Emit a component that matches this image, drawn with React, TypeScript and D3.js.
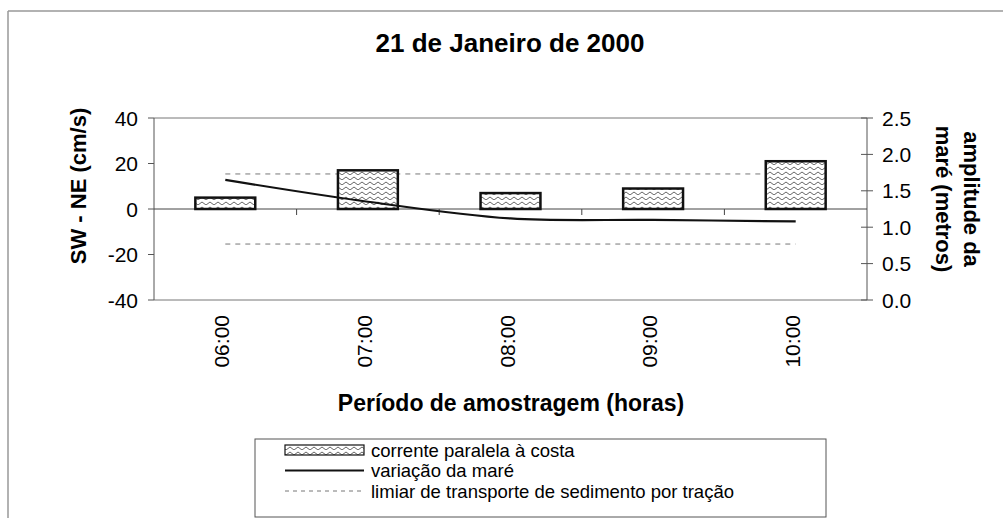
import React from "react";
import * as d3 from "d3";

const categories = ["06:00", "07:00", "08:00", "09:00", "10:00"];
const currentValues = [5, 17, 7, 9, 21];
const tideValues = [1.65, 1.35, 1.12, 1.1, 1.08];
const thresholdUpper = [15.4, 15.4, 15.4, 15.4, 15.4];
const thresholdLower = [-15.4, -15.4, -15.4, -15.4, -15.4];
const leftTicks = [-40, -20, 0, 20, 40];
const rightTicks = [0, 0.5, 1.0, 1.5, 2.0, 2.5];
const legendLabels = [
  "corrente paralela à costa",
  "variação da maré",
  "limiar de transporte de sedimento por tração",
];

const W = 1003;
const H = 518;
const FONT = "Liberation Sans, Arial, sans-serif";

export default function App() {
  const left = 154, right = 867, top = 118, bottom = 300;
  const x = d3.scaleBand<string>().domain(categories).range([left, right]).padding(0);
  const yL = d3.scaleLinear().domain([-40, 40]).range([bottom, top]);
  const yR = d3.scaleLinear().domain([0, 2.5]).range([bottom, top]);
  const cx = (c: string) => (x(c) as number) + x.bandwidth() / 2;
  const barW = x.bandwidth() * 0.42;

  const tideLine = d3
    .line<number>()
    .x((_, i) => cx(categories[i]))
    .y((d) => yR(d))
    .curve(d3.curveCatmullRom.alpha(0.5));
  const threshLine = d3
    .line<number>()
    .x((_, i) => cx(categories[i]))
    .y((d) => yL(d));

  const legX = 255, legY = 439;
  const rowY = [450, 470.5, 491];

  return (
    <svg width={W} height={H} style={{ position: "absolute", left: 0, top: 0, background: "#fff" }}>
      <defs>
        <pattern id="wave" width="8" height="5" patternUnits="userSpaceOnUse">
          <rect width="8" height="5" fill="#fff" />
          <path d="M0,3.5 Q2,0.5 4,3.5 T8,3.5" fill="none" stroke="#666" strokeWidth="1" />
        </pattern>
      </defs>
      <rect x={0} y={0} width={W} height={H} fill="#fff" />
      {/* outer frame */}
      <line x1={8} y1={11} x2={W} y2={11} stroke="#999" strokeWidth={1.5} />
      <line x1={8} y1={11} x2={8} y2={H} stroke="#999" strokeWidth={1.5} />

      {/* title */}
      <text x={510} y={52} textAnchor="middle" fontFamily={FONT} fontWeight="bold" fontSize={26}>
        21 de Janeiro de 2000
      </text>

      {/* plot border */}
      <line x1={left} y1={top} x2={right} y2={top} stroke="#777" strokeWidth={1} />
      <line x1={left} y1={bottom} x2={right} y2={bottom} stroke="#777" strokeWidth={1} />
      <line x1={left} y1={top} x2={left} y2={bottom} stroke="#555" strokeWidth={1} />
      <line x1={right} y1={top} x2={right} y2={bottom} stroke="#555" strokeWidth={1} />

      {/* left ticks */}
      {leftTicks.map((t) => (
        <g key={"l" + t}>
          <line x1={left - 6} x2={left} y1={yL(t)} y2={yL(t)} stroke="#555" />
          <text x={left - 16} y={yL(t)} dy="0.36em" textAnchor="end" fontFamily={FONT} fontSize={21}>
            {t}
          </text>
        </g>
      ))}
      {/* right ticks */}
      {rightTicks.map((t) => (
        <g key={"r" + t}>
          <line x1={right - 6} x2={right + 6} y1={yR(t)} y2={yR(t)} stroke="#555" />
          <text x={right + 15} y={yR(t)} dy="0.36em" textAnchor="start" fontFamily={FONT} fontSize={21}>
            {d3.format(".1f")(t)}
          </text>
        </g>
      ))}

      {/* zero axis */}
      <line x1={left} x2={right} y1={yL(0)} y2={yL(0)} stroke="#444" strokeWidth={1} />
      {categories.slice(1).map((c) => (
        <line key={"t" + c} x1={x(c) as number} x2={x(c) as number} y1={yL(0)} y2={yL(0) + 6} stroke="#444" />
      ))}

      {/* threshold lines */}
      <path d={threshLine(thresholdUpper) as string} fill="none" stroke="#777" strokeWidth={1} strokeDasharray="5,5" />
      <path d={threshLine(thresholdLower) as string} fill="none" stroke="#777" strokeWidth={1} strokeDasharray="5,5" />

      {/* bars */}
      {currentValues.map((v, i) => (
        <rect
          key={"b" + i}
          x={cx(categories[i]) - barW / 2}
          y={yL(v)}
          width={barW}
          height={yL(0) - yL(v)}
          fill="url(#wave)"
          stroke="#111"
          strokeWidth={2.5}
        />
      ))}

      {/* tide line */}
      <path d={tideLine(tideValues) as string} fill="none" stroke="#111" strokeWidth={2.2} />

      {/* x tick labels */}
      {categories.map((c) => (
        <text
          key={"x" + c}
          transform={`translate(${cx(c) + 4},${315}) rotate(-90)`}
          textAnchor="end"
          fontFamily={FONT}
          fontSize={21}
        >
          {c}
        </text>
      ))}

      {/* axis titles */}
      <text x={511} y={411} textAnchor="middle" fontFamily={FONT} fontWeight="bold" fontSize={23}>
        Período de amostragem (horas)
      </text>
      <text transform={`translate(86,186) rotate(-90)`} textAnchor="middle" fontFamily={FONT} fontWeight="bold" fontSize={22}>
        SW - NE (cm/s)
      </text>
      <text transform={`translate(964,199) rotate(90)`} textAnchor="middle" fontFamily={FONT} fontWeight="bold" fontSize={22}>
        amplitude da
      </text>
      <text transform={`translate(936,199) rotate(90)`} textAnchor="middle" fontFamily={FONT} fontWeight="bold" fontSize={22}>
        maré (metros)
      </text>

      {/* legend */}
      <rect x={legX} y={legY} width={826 - legX} height={517 - legY} fill="#fff" stroke="#555" strokeWidth={1} />
      <rect x={285} y={rowY[0] - 5} width={79} height={10} fill="url(#wave)" stroke="#111" strokeWidth={1.2} />
      <line x1={285} x2={364} y1={rowY[1]} y2={rowY[1]} stroke="#111" strokeWidth={2} />
      <line x1={285} x2={364} y1={rowY[2]} y2={rowY[2]} stroke="#777" strokeWidth={1} strokeDasharray="4,4" />
      {legendLabels.map((l, i) => (
        <text key={"lg" + i} x={371} y={rowY[i]} dy="0.36em" fontFamily={FONT} fontSize={18.5}>
          {l}
        </text>
      ))}
    </svg>
  );
}
